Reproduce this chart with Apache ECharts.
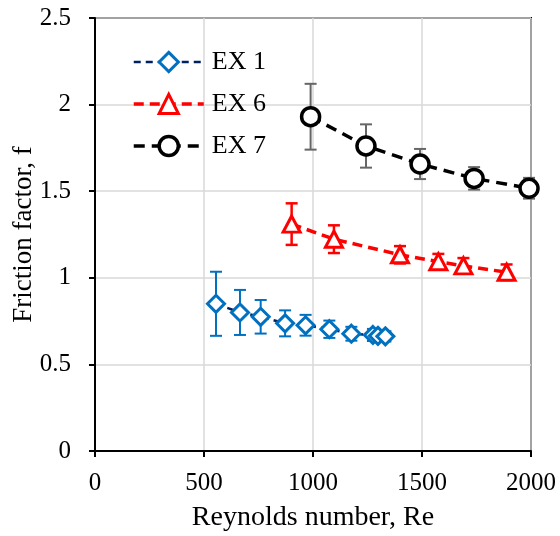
<!DOCTYPE html>
<html>
<head>
<meta charset="utf-8">
<script src="https://cdn.jsdelivr.net/npm/echarts@6/dist/echarts.min.js"></script>
<style>
  html, body { margin: 0; padding: 0; background: #fff; }
  #chart { width: 560px; height: 536px; }
</style>
</head>
<body>
<div id="chart"></div>
<script>
// Friction factor vs Reynolds number for three experiments, with error bars
const seriesNames = ['EX 1', 'EX 6', 'EX 7'];

const ex1Re = [555, 665, 760, 872, 966, 1075, 1176, 1275, 1298, 1332];
const ex1F = [0.85, 0.80, 0.775, 0.737, 0.726, 0.703, 0.677, 0.67, 0.665, 0.662];
const ex1Err = [0.185, 0.13, 0.097, 0.075, 0.06, 0.05, 0.04, 0.035, 0.03, 0.03];

const ex6Re = [902, 1096, 1399, 1575, 1690, 1888];
const ex6F = [1.31, 1.223, 1.133, 1.093, 1.069, 1.032];
const ex6Err = [0.12, 0.08, 0.05, 0.045, 0.045, 0.045];

const ex7Re = [989, 1243, 1491, 1739, 1991];
const ex7F = [1.93, 1.761, 1.657, 1.574, 1.517];
const ex7Err = [0.19, 0.125, 0.087, 0.065, 0.06];

const xTicks = [0, 500, 1000, 1500, 2000];
const yTicks = [0, 0.5, 1, 1.5, 2, 2.5];

const FONT = '"Liberation Serif", "Times New Roman", serif';

// per-series look: line colour/width/dash, marker shape/size/colour
const styles = [
  { line: '#002060', lw: 2.5, dash: [7, 5], symbol: 'diamond', size: 17, mark: '#0070C0', bw: 3, err: '#0070C0', ew: 2 },
  { line: '#FF0000', lw: 3.5, dash: [10, 6], symbol: 'triangle', size: [17, 16], mark: '#FF0000', bw: 3, err: '#FF0000', ew: 2.5 },
  { line: '#000000', lw: 3.5, dash: [11, 7], symbol: 'circle', size: 18, mark: '#000000', bw: 3.5, err: '#666666', ew: 2 }
];

function pairs(xs, ys) { return xs.map((x, i) => [x, ys[i]]); }
function errRows(xs, ys, es) { return xs.map((x, i) => [x, ys[i] - es[i], ys[i] + es[i]]); }

function errorBars(name, rows, color, width) {
  return {
    type: 'custom',
    name: name + ' err',
    z: 1,
    silent: true,
    data: rows,
    renderItem: function (params, api) {
      const x = api.value(0);
      const lo = api.coord([x, api.value(1)]);
      const hi = api.coord([x, api.value(2)]);
      const cap = 6;
      const style = { stroke: color, lineWidth: width };
      return {
        type: 'group',
        children: [
          { type: 'line', shape: { x1: lo[0], y1: lo[1], x2: hi[0], y2: hi[1] }, style: style },
          { type: 'line', shape: { x1: lo[0] - cap, y1: lo[1], x2: lo[0] + cap, y2: lo[1] }, style: style },
          { type: 'line', shape: { x1: hi[0] - cap, y1: hi[1], x2: hi[0] + cap, y2: hi[1] }, style: style }
        ]
      };
    }
  };
}

function lineSeries(i, data) {
  const s = styles[i];
  return {
    type: 'line', name: seriesNames[i], z: 3,
    data: data,
    symbol: s.symbol, symbolSize: s.size,
    lineStyle: { color: s.line, width: s.lw, type: s.dash },
    itemStyle: { color: '#fff', borderColor: s.mark, borderWidth: s.bw }
  };
}

const chart = echarts.init(document.getElementById('chart'), null, { renderer: 'canvas' });

chart.setOption({
  animation: false,
  backgroundColor: '#fff',
  textStyle: { fontFamily: FONT, color: '#000' },
  grid: {
    left: 95, right: 29, top: 18, bottom: 85,
    containLabel: false, outerBoundsMode: 'none',
    show: true, borderColor: '#000', borderWidth: 2, backgroundColor: 'transparent'
  },
  legend: {
    data: seriesNames.map((name, i) => ({
      name: name,
      lineStyle: { color: styles[i].line, width: styles[i].lw, type: styles[i].dash },
      itemStyle: { color: '#fff', borderColor: styles[i].mark, borderWidth: styles[i].bw }
    })),
    orient: 'vertical',
    left: 132, top: 49, padding: 0,
    itemWidth: 70, itemHeight: 24, itemGap: 16,
    textStyle: { fontFamily: FONT, fontSize: 26, color: '#000', padding: [0, 0, 0, 3] }
  },
  xAxis: {
    type: 'value',
    min: xTicks[0], max: xTicks[xTicks.length - 1], interval: 500,
    name: 'Reynolds number, Re',
    nameLocation: 'middle', nameGap: 53, nameMoveOverlap: false,
    nameTextStyle: { fontFamily: FONT, fontSize: 28, color: '#000' },
    axisLine: { onZero: false, lineStyle: { color: '#000', width: 2 } },
    axisTick: { show: true, inside: false, length: 6, lineStyle: { color: '#000', width: 2 } },
    axisLabel: { fontFamily: FONT, fontSize: 25, color: '#000', margin: 20,
      formatter: function (v) { return String(v); } },
    splitLine: { show: true, lineStyle: { color: '#d9d9d9', width: 1.5 } }
  },
  yAxis: {
    type: 'value',
    min: yTicks[0], max: yTicks[yTicks.length - 1], interval: 0.5,
    name: 'Friction factor, f',
    nameLocation: 'middle', nameGap: 58, nameMoveOverlap: false,
    nameTextStyle: { fontFamily: FONT, fontSize: 27, color: '#000' },
    axisLine: { onZero: false, lineStyle: { color: '#000', width: 2 } },
    axisTick: { show: true, inside: false, length: 6, lineStyle: { color: '#000', width: 2 } },
    axisLabel: { fontFamily: FONT, fontSize: 25, color: '#000', margin: 24,
      formatter: function (v) { return String(v); } },
    splitLine: { show: true, lineStyle: { color: '#d9d9d9', width: 1.5 } }
  },
  series: [
    errorBars(seriesNames[0], errRows(ex1Re, ex1F, ex1Err), styles[0].err, styles[0].ew),
    errorBars(seriesNames[1], errRows(ex6Re, ex6F, ex6Err), styles[1].err, styles[1].ew),
    errorBars(seriesNames[2], errRows(ex7Re, ex7F, ex7Err), styles[2].err, styles[2].ew),
    lineSeries(0, pairs(ex1Re, ex1F)),
    lineSeries(1, pairs(ex6Re, ex6F)),
    lineSeries(2, pairs(ex7Re, ex7F))
  ]
});
</script>
</body>
</html>
